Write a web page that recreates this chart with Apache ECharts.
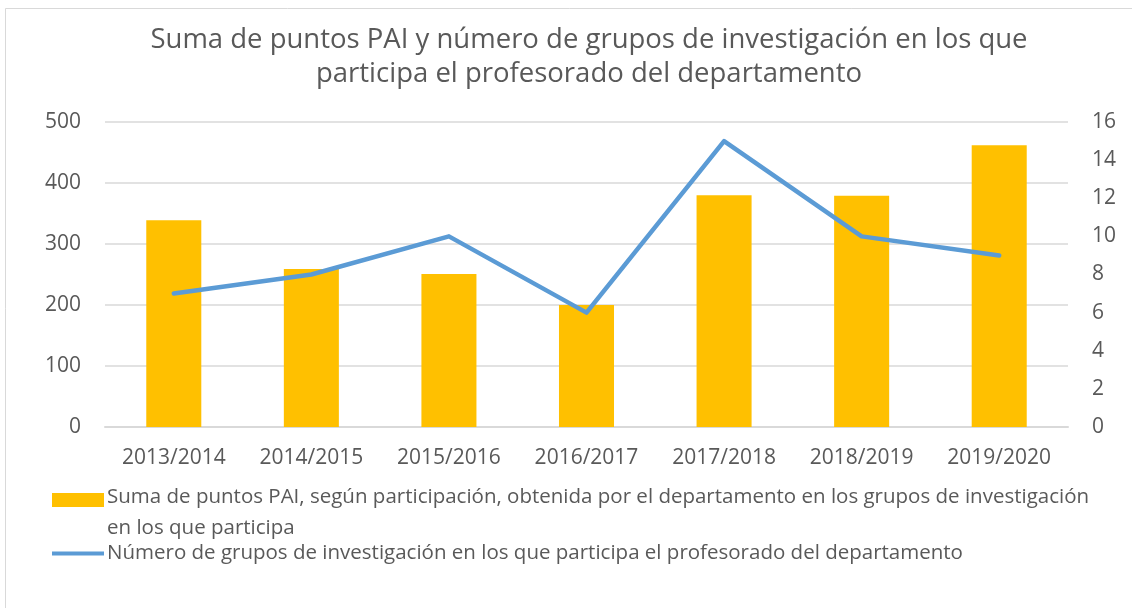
<!DOCTYPE html>
<html>
<head>
<meta charset="utf-8">
<script src="https://cdn.jsdelivr.net/npm/echarts@6/dist/echarts.min.js"></script>
<style>
  html, body { margin: 0; padding: 0; background: #fff; }
  #chart { width: 1132px; height: 608px; }
</style>
</head>
<body>
<div id="chart"></div>
<script>
var years = ['2013/2014', '2014/2015', '2015/2016', '2016/2017', '2017/2018', '2018/2019', '2019/2020'];
var puntosPAI = [339, 259, 251, 200, 380, 379, 462];
var numGrupos = [7, 8, 10, 6, 15, 10, 9];
var barName = 'Suma de puntos PAI, según participación, obtenida por el departamento en los grupos de investigación en los que participa';
var lineName = 'Número de grupos de investigación en los que participa el profesorado del departamento';

var textColor = '#595959';
var font = '"Open Sans", sans-serif';

var myChart = echarts.init(document.getElementById('chart'));
var option = {
    backgroundColor: '#fff',
    animation: false,
    graphic: [{
        type: 'rect',
        shape: { x: 5.5, y: 8.5, width: 1200, height: 700 },
        style: { fill: 'none', stroke: '#d9d9d9', lineWidth: 1 },
        silent: true
    }],
    title: {
        text: 'Suma de puntos PAI y número de grupos de investigación en los que\nparticipa el profesorado del departamento',
        left: 584,
        top: 18,
        textAlign: 'center',
        textStyle: {
            color: textColor,
            fontFamily: font,
            fontWeight: 'normal',
            fontSize: 27.5,
            lineHeight: 34
        }
    },
    // icon box is taller than the mark so the bar square sits on the first text line
    legend: {
        orient: 'vertical',
        left: 47,
        top: 477,
        itemWidth: 52,
        itemHeight: 44,
        itemGap: -6,
        selectedMode: false,
        textStyle: {
            color: textColor,
            fontFamily: font,
            fontSize: 20.5,
            lineHeight: 31,
            width: 1015,
            overflow: 'break',
            padding: [0, 0, 0, -2]
        },
        data: [
            { name: barName, icon: 'path://M0,0 L0,0 M0,2 L52,2 L52,16 L0,16 Z M0,44 L0,44' },
            { name: lineName, icon: 'path://M0,0 L52,0 L52,4 L0,4 Z' }
        ]
    },
    grid: {
        left: 105,
        right: 64,
        top: 122,
        bottom: 181
    },
    xAxis: {
        type: 'category',
        data: years,
        axisLine: { lineStyle: { color: '#d9d9d9', width: 2 } },
        axisTick: { show: false },
        axisLabel: {
            color: textColor,
            fontFamily: font,
            fontSize: 21,
            margin: 21
        }
    },
    yAxis: [
        {
            type: 'value',
            min: 0,
            max: 500,
            interval: 100,
            axisLine: { show: false },
            axisTick: { show: false },
            axisLabel: { color: textColor, fontFamily: font, fontSize: 21, margin: 24 },
            splitLine: { lineStyle: { color: '#d9d9d9', width: 1.5 } }
        },
        {
            type: 'value',
            min: 0,
            max: 16,
            interval: 2,
            axisLine: { show: false },
            axisTick: { show: false },
            axisLabel: { color: textColor, fontFamily: font, fontSize: 21, margin: 24 },
            splitLine: { show: false }
        }
    ],
    series: [
        {
            name: barName,
            type: 'bar',
            yAxisIndex: 0,
            barWidth: '40%',
            itemStyle: { color: '#FFC000' },
            data: puntosPAI
        },
        {
            name: lineName,
            type: 'line',
            yAxisIndex: 1,
            symbol: 'none',
            lineStyle: { color: '#5B9BD5', width: 4.5, cap: 'round', join: 'round' },
            itemStyle: { color: '#5B9BD5' },
            data: numGrupos
        }
    ]
};
myChart.setOption(option);
</script>
</body>
</html>
